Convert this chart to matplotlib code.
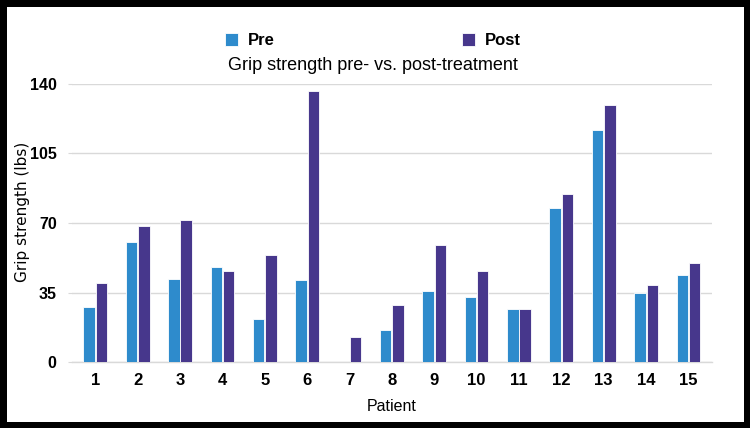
import matplotlib
matplotlib.use("Agg")
import matplotlib.pyplot as plt
import numpy as np

patients = [str(i) for i in range(1, 16)]
pre = [27.7, 60.6, 41.8, 47.8, 21.8, 41.1, 0, 16.0, 35.8, 32.9, 26.7, 77.7, 117.0, 34.8, 43.8]
post = [39.8, 68.7, 71.7, 45.8, 53.9, 136.6, 12.8, 28.7, 58.9, 46.0, 26.7, 84.8, 129.6, 38.6, 49.9]
yticks = [0, 35, 70, 105, 140]

PRE_COLOR = "#2E8BCC"
POST_COLOR = "#47378C"

plt.rcParams['font.family'] = ['Liberation Sans', 'DejaVu Sans']

fig = plt.figure(figsize=(7.5, 4.28), dpi=100)
fig.patch.set_edgecolor("black")
fig.patch.set_linewidth(8)
ax = fig.add_axes([0.096, 0.154, 0.853, 0.650])

x = np.arange(1, len(patients) + 1)
w = 0.27
ax.bar(x - 0.145, pre, w, color=PRE_COLOR, edgecolor="white", linewidth=0.6, label="Pre", zorder=3)
ax.bar(x + 0.145, post, w, color=POST_COLOR, edgecolor="white", linewidth=0.6, label="Post", zorder=3)

ax.set_xlim(0.45, 15.55)
ax.set_ylim(0, 140)
ax.set_yticks(yticks)
ax.set_xticks(x)
ax.set_xticklabels(patients)
ax.yaxis.grid(True, color="#d9d9d9", linewidth=1.0, zorder=0)
for s in ["top", "right", "left"]:
    ax.spines[s].set_visible(False)
ax.spines["bottom"].set_color("#d9d9d9")
ax.spines["bottom"].set_linewidth(1.0)
ax.tick_params(axis="x", length=0, pad=8, labelsize=12)
ax.tick_params(axis="y", length=3, color="#d9d9d9", pad=8, labelsize=11.5)
for lbl in ax.get_xticklabels() + ax.get_yticklabels():
    lbl.set_fontweight("bold")

ax.set_xlabel("Patient", fontsize=11.5, labelpad=8)
ax.set_ylabel("Grip strength (lbs)", fontsize=11, family=['DejaVu Sans'])
ax.yaxis.set_label_coords(-0.066, 0.54)

fig.text(0.497, 0.848, "Grip strength pre- vs. post-treatment", ha="center", va="center", fontsize=13)

leg = fig.legend(loc="center", bbox_to_anchor=(0.497, 0.905), ncol=2, frameon=False,
                 handlelength=0.8, handleheight=0.8, columnspacing=11.2, handletextpad=0.6,
                 prop={"weight": "bold", "size": 12})

fig.savefig("out.png", dpi=100, edgecolor=fig.get_edgecolor())
